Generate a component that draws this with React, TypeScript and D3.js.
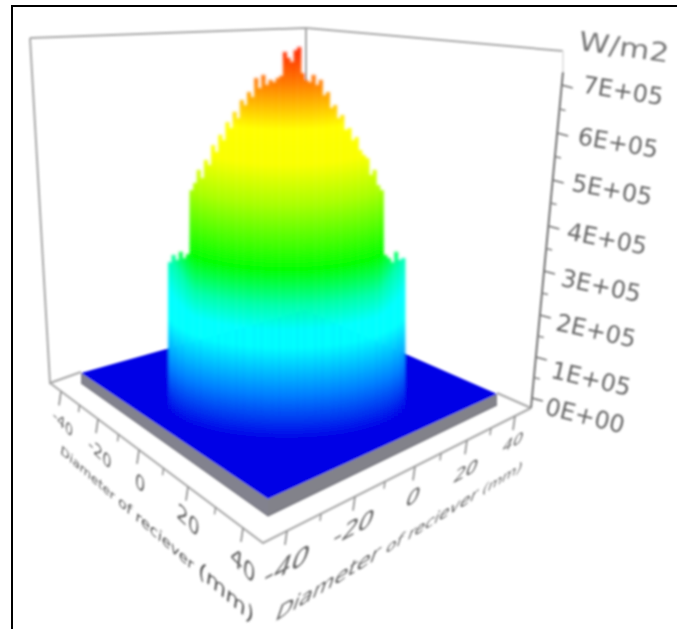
import React from "react";
import * as d3 from "d3";

const W = 677, H = 629;

// data
const diameterMm = d3.range(-33, 33);
const irradiance = [
  2.73e5, 2.89e5, 2.78e5, 2.96e5, 2.82e5, 2.91e5,
  4.33e5, 4.49e5, 4.78e5, 4.6e5, 5.0e5, 4.89e5, 5.33e5, 5.18e5, 5.56e5, 5.44e5, 5.84e5, 5.71e5,
  6.07e5, 5.93e5, 6.33e5, 6.22e5, 6.51e5, 6.4e5, 6.82e5, 6.6e5, 6.89e5, 6.67e5, 6.78e5, 6.73e5,
  6.82e5, 6.87e5, 7.4e5, 7.27e5, 7.18e5, 7.44e5, 7.51e5, 6.93e5, 6.78e5, 6.73e5, 6.89e5, 6.67e5,
  6.78e5, 6.44e5, 6.51e5, 6.16e5, 6.22e5, 5.93e5, 6.0e5, 5.67e5, 5.71e5, 5.44e5, 5.51e5, 5.22e5,
  5.11e5, 5.04e5, 4.67e5, 4.78e5, 4.44e5, 4.33e5,
  2.89e5, 2.82e5, 2.73e5, 2.96e5, 2.78e5, 2.82e5,
];
const colorLevels = [0, 0.85e5, 1.75e5, 2.09e5, 2.56e5, 3.23e5, 4.46e5, 5.22e5, 5.88e5, 6.74e5, 7.4e5];
const colorNames = ["#0000e6", "#0080ff", "#00ffff", "#00ffff", "#00ffaa", "#00ff00", "#aaff00", "#faff00", "#ffff00", "#ff8000", "#ff2800"];
const valueTicks = [0, 1e5, 2e5, 3e5, 4e5, 5e5, 6e5, 7e5];
const valueTickLabels = ["0E+00", "1E+05", "2E+05", "3E+05", "4E+05", "5E+05", "6E+05", "7E+05"];
const mmTicks = [-40, -20, 0, 20, 40];
const mmMinorTicks = [-30, -10, 10, 30];
const axisTitleWords = ["Diameter", "of", "reciever", "(mm)"];
const unitLabel = "W/m2";

// scales
const xAcross = d3.scaleLinear().domain([-56.6, 56.6]).range([83.3, 489.7]);
const barStep = xAcross(1) - xAcross(0);
const zHeight = d3.scaleLinear().domain([0, 7e5]).range([385, 70]);
const colorY = d3.scaleLinear().domain([0, 7.4e5]).range([440, 50]);
const extraBlend = d3.scaleLinear().domain([1.75e5, 2.56e5]).range([0, 1]).clamp(true);

const valueY = d3.scaleLinear().domain(valueTicks).range([398, 357, 315, 271, 226, 180, 133, 85]);
const axisX = d3.scaleLinear().domain([407, 72]).range([531, 563]);
const valueLabelX = d3.scaleLinear().domain(valueTicks).range([585, 591, 596, 601, 607, 612, 618, 623]);
const valueLabelY = d3.scaleLinear().domain(valueTicks).range([416, 379, 331, 286, 239, 190, 143, 91]);
const valueLabelRot = d3.scaleLinear().domain([0, 7e5]).range([14, 9]);

const leftTickX = d3.scaleLinear().domain(mmTicks).range([61, 98, 139, 188, 243]);
const leftAxisY = (x: number) => 383 + (x - 50) * (160 / 213);
const leftLabelX = d3.scaleLinear().domain(mmTicks).range([63, 100, 140, 188, 243]);
const leftLabelY = d3.scaleLinear().domain(mmTicks).range([423, 453, 483, 520, 565]);
const leftLabelSize = d3.scaleLinear().domain([-40, 40]).range([17, 27]);

const rightTickX = d3.scaleLinear().domain(mmTicks).range([287, 355, 415, 467, 515]);
const rightAxisY = (x: number) => 543 - (x - 263) * (135 / 268);
const rightLabelX = d3.scaleLinear().domain(mmTicks).range([287, 354, 413, 466, 513]);
const rightLabelY = d3.scaleLinear().domain(mmTicks).range([565, 527, 497, 471, 442]);
const rightLabelSize = d3.scaleLinear().domain([-40, 40]).range([31, 18]);

// bilinear floor projection for the plate
const plateBack = [305, 310], plateLeft = [81, 373], plateFront = [268, 499], plateRight = [497, 394];
const u01 = d3.scaleLinear().domain([-40, 40]).range([0, 1]);
const project = (u: number, v: number) => {
  const a = u01(u), b = u01(v);
  return [0, 1].map(
    (i) =>
      (1 - a) * (1 - b) * plateBack[i] + (1 - a) * b * plateRight[i] +
      a * b * plateFront[i] + a * (1 - b) * plateLeft[i],
  );
};
const line = d3.line();
const platePath = line([project(-40, -40), project(40, -40), project(40, 40), project(-40, 40)] as [number, number][])! + "Z";

const GRAY = "#8a8a8a";
const TXT = "#666";
const FONT = "'DejaVu Sans'";
const GRAD_SPAN = 460;

const shear = (x: number, y: number, deg: number, sx: number, sy: number, skew: number) => {
  const a = (deg * Math.PI) / 180;
  const c = Math.cos(a), s = Math.sin(a);
  return `matrix(${c * sx} ${s * sx} ${skew} ${sy} ${x} ${y})`;
};

export default function App() {
  const bars = diameterMm.map((mm, i) => {
    const r = Math.min(1, Math.abs(mm + 0.5) / 33.2);
    const root = Math.sqrt(1 - r * r);
    const s1 = 36 * (1 - root);
    const extra = 24 * Math.max(0, (r - 0.78) / 0.22);
    return {
      id: `g${i}`,
      x: xAcross(mm),
      top: zHeight(irradiance[i]),
      base: colorY(0) - s1,
      offsets: colorLevels.map((l) => (GRAD_SPAN - (colorY(l) - s1 - extra * extraBlend(l))) / GRAD_SPAN),
    };
  });
  const minorValues = valueTicks.slice(0, -1).map((v) => v + 5e4);

  return (
    <svg
      width={W}
      height={H}
      viewBox={`0 0 ${W} ${H}`}
      style={{ position: "absolute", left: 0, top: 0, background: "#fff" }}
    >
      <defs>
        <filter id="soft" x="0" y="0" width={W} height={H} filterUnits="userSpaceOnUse">
          <feGaussianBlur stdDeviation="0.8" />
        </filter>
        <filter id="softer" x="0" y="0" width={W} height={H} filterUnits="userSpaceOnUse">
          <feGaussianBlur stdDeviation="1 0.8" />
        </filter>
        {bars.map((b) => (
          <linearGradient key={b.id} id={b.id} gradientUnits="userSpaceOnUse" x1="0" x2="0" y1={GRAD_SPAN} y2={0}>
            {b.offsets.map((o, j) => (
              <stop key={j} offset={o} stopColor={colorNames[j]} />
            ))}
          </linearGradient>
        ))}
      </defs>

      <g filter="url(#soft)">
        {/* box walls */}
        <g fill="none" stroke="#a8a8a8" strokeWidth={2}>
          <path d="M30 38L306 28L563 51" />
          <path d="M30 38L50 383L81 372" />
          <path d="M306 28L306 320" />
          <path d="M531 408L497 393" />
          <path d="M563 51L563 72" stroke="#e4e4e4" />
          <path d="M50 383L263 543L531 408" stroke="#a8a8a8" />
        </g>

        {/* plate */}
        <path d="M81 373L81 383L268 516L268 499Z" fill="#82828e" />
        <path d="M268 499L268 516L497 405L497 394Z" fill="#82828a" />
        <path d="M81 383L268 516L497 405" fill="none" stroke="#5c5c66" strokeWidth={1} />
        <path d={platePath} fill="#0000e6" />

        {/* flux column */}
        <g filter="url(#softer)">
          {bars.map((b) => (
            <rect key={b.id} x={b.x} y={b.top} width={barStep + 0.4} height={b.base - b.top} fill={`url(#${b.id})`} />
          ))}
        </g>

        {/* value axis */}
        <path d="M563 72L531 408" stroke="#707070" strokeWidth={2} fill="none" />
        {valueTicks.map((v) => {
          const y = valueY(v), x = axisX(y);
          return <path key={v} d={`M${x} ${y}L${x + 11} ${y + 3}`} stroke="#707070" strokeWidth={1.6} />;
        })}
        {minorValues.map((v) => {
          const y = valueY(v), x = axisX(y);
          return <path key={v} d={`M${x} ${y}L${x + 6} ${y + 1.5}`} stroke="#808080" strokeWidth={1.4} />;
        })}
        {valueTicks.map((v, i) => (
          <text
            key={v}
            transform={`translate(${valueLabelX(v)} ${valueLabelY(v)}) rotate(${valueLabelRot(v)})`}
            textAnchor="middle"
            dominantBaseline="central"
            fontFamily={FONT}
            fontSize={24}
            fill={TXT}
          >
            {valueTickLabels[i]}
          </text>
        ))}
        <text
          transform={`translate(624 47) rotate(8) scale(1 0.85)`}
          textAnchor="middle"
          dominantBaseline="central"
          fontFamily={FONT}
          fontSize={31}
          fill="#777"
        >
          {unitLabel}
        </text>

        {/* left floor axis */}
        {mmTicks.map((t) => {
          const x = leftTickX(t), y = leftAxisY(x);
          return <path key={t} d={`M${x} ${y}L${x - 2} ${y + 14}`} stroke={GRAY} strokeWidth={1.6} />;
        })}
        {mmMinorTicks.map((t) => {
          const x = leftTickX(t), y = leftAxisY(x);
          return <path key={t} d={`M${x} ${y}L${x - 1} ${y + 7}`} stroke={GRAY} strokeWidth={1.4} />;
        })}
        {mmTicks.map((t) => (
          <text
            key={t}
            transform={shear(leftLabelX(t), leftLabelY(t), 44, 1, 0.85, -0.1)}
            textAnchor="middle"
            dominantBaseline="central"
            fontFamily={FONT}
            fontSize={leftLabelSize(t)}
            fill={TXT}
          >
            {t}
          </text>
        ))}
        <text
          transform={shear(60, 453, 41.5, 1, 0.72, -0.12)}
          fontFamily={FONT}
          fill="#555"
        >
          <tspan fontSize={15.5}>{axisTitleWords[0]} </tspan>
          <tspan fontSize={18}>{axisTitleWords[1]} </tspan>
          <tspan fontSize={19}>{axisTitleWords[2]} </tspan>
          <tspan fontSize={27}>{axisTitleWords[3]}</tspan>
        </text>

        {/* right floor axis */}
        {mmTicks.map((t) => {
          const x = rightTickX(t), y = rightAxisY(x);
          return <path key={t} d={`M${x} ${y}L${x - 2} ${y + 14}`} stroke={GRAY} strokeWidth={1.6} />;
        })}
        {mmMinorTicks.map((t) => {
          const x = rightTickX(t), y = rightAxisY(x);
          return <path key={t} d={`M${x} ${y}L${x - 1} ${y + 7}`} stroke={GRAY} strokeWidth={1.4} />;
        })}
        {mmTicks.map((t) => (
          <text
            key={t}
            transform={shear(rightLabelX(t), rightLabelY(t), -28, 1, 0.9, -0.3)}
            textAnchor="middle"
            dominantBaseline="central"
            fontFamily={FONT}
            fontSize={rightLabelSize(t)}
            fill={TXT}
          >
            {t}
          </text>
        ))}
        <text
          transform={shear(274, 622, -31.5, 1, 0.85, -0.3)}
          fontFamily={FONT}
          fill={TXT}
        >
          <tspan fontSize={26}>{axisTitleWords[0]} </tspan>
          <tspan fontSize={20}>{axisTitleWords[1]} </tspan>
          <tspan fontSize={20}>{axisTitleWords[2]} </tspan>
          <tspan fontSize={17}>{axisTitleWords[3]}</tspan>
        </text>
      </g>

      {/* frame */}
      <path d="M12 629L12 6L677 6" fill="none" stroke="#000" strokeWidth={2} />
    </svg>
  );
}
